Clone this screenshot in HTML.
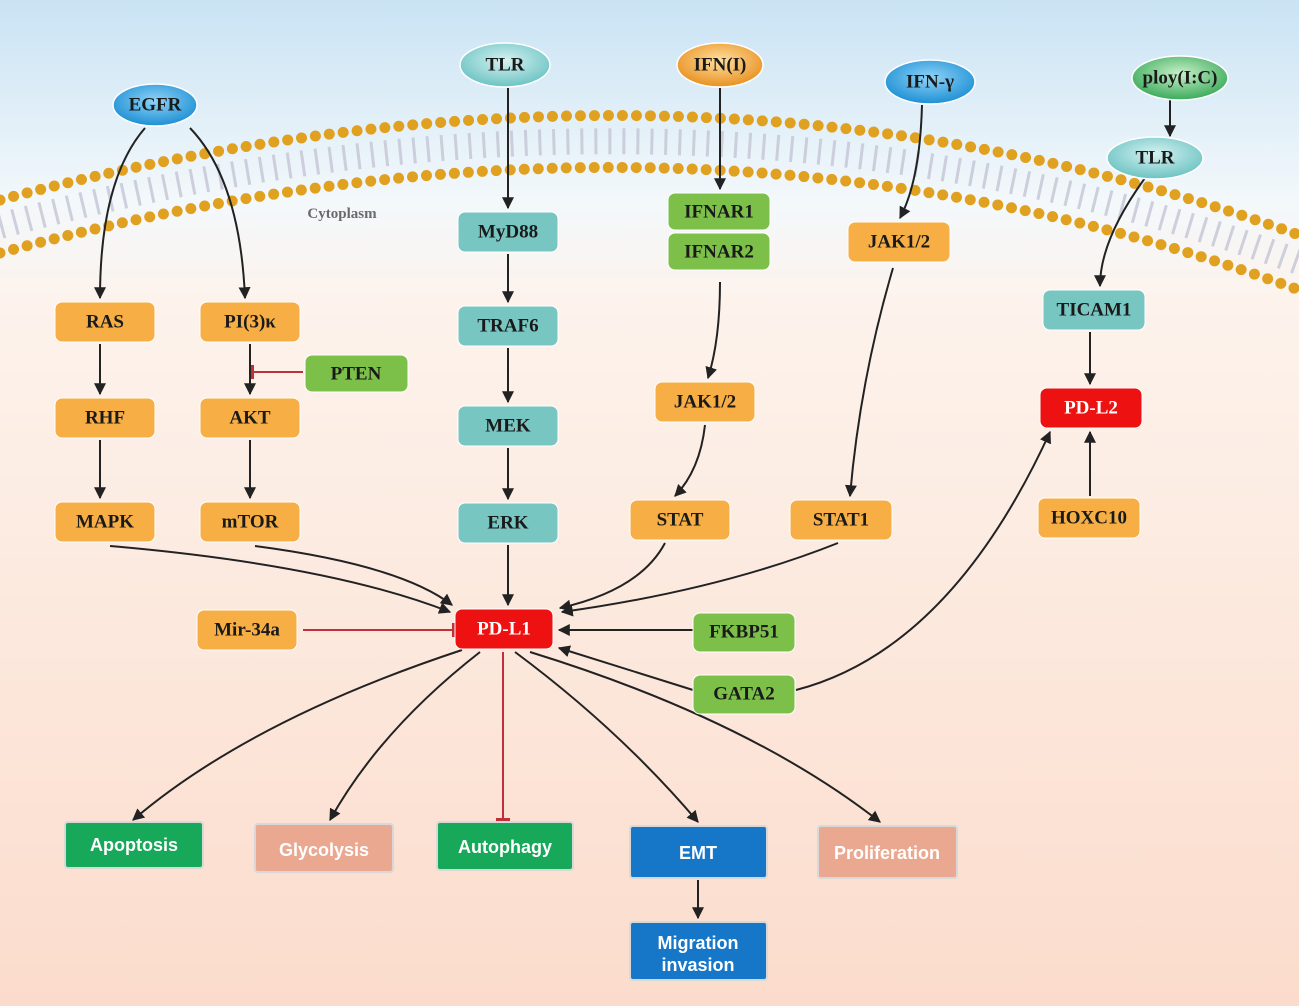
<!DOCTYPE html>
<html><head><meta charset="utf-8"><style>
body{margin:0;width:1299px;height:1006px;overflow:hidden}
svg{display:block}
.n{font-family:"Liberation Serif",serif;font-weight:bold;font-size:19px;fill:#1a1a1a;text-anchor:middle;dominant-baseline:central}
.b{font-family:"Liberation Sans",sans-serif;font-weight:bold;font-size:18px;fill:#fff;text-anchor:middle;dominant-baseline:central}
</style></head><body>
<svg width="1299" height="1006" viewBox="0 0 1299 1006">
<defs>
<linearGradient id="bg" x1="0" y1="0" x2="0" y2="1">
<stop offset="0" stop-color="#c9e3f4"/><stop offset="0.2" stop-color="#f3f8fb"/><stop offset="0.3" stop-color="#fdf3ec"/><stop offset="1" stop-color="#fbdccc"/></linearGradient>
<radialGradient id="gb" cx="0.5" cy="0.4" r="0.6"><stop offset="0" stop-color="#8fd3f7"/><stop offset="1" stop-color="#1d8fd4"/></radialGradient>
<radialGradient id="gt" cx="0.5" cy="0.4" r="0.6"><stop offset="0" stop-color="#d6f2f1"/><stop offset="1" stop-color="#6cc3c3"/></radialGradient>
<radialGradient id="go" cx="0.5" cy="0.4" r="0.6"><stop offset="0" stop-color="#ffe0a0"/><stop offset="1" stop-color="#e89020"/></radialGradient>
<radialGradient id="gg" cx="0.5" cy="0.4" r="0.6"><stop offset="0" stop-color="#c8f0c8"/><stop offset="1" stop-color="#3aaa5a"/></radialGradient>
<marker id="a" viewBox="0 0 10 10" refX="9" refY="5" markerWidth="12" markerHeight="12" markerUnits="userSpaceOnUse" orient="auto"><path d="M0,0L10,5L0,10z" fill="#222"/></marker>
<marker id="t" viewBox="0 0 4 14" refX="2" refY="7" markerWidth="4" markerHeight="14" markerUnits="userSpaceOnUse" orient="auto"><rect x="0" y="0" width="3" height="14" fill="#c0303a"/></marker>
</defs>
<rect width="1299" height="1006" fill="url(#bg)"/>
<!-- membrane -->
<path d="M0,226 Q690,40 1299,262" fill="none" stroke="#c4c4d4" stroke-width="26" stroke-dasharray="3 11" opacity="0.8"/>
<path d="M0,200 Q690,15 1299,235" fill="none" stroke="#e0a020" stroke-width="11" stroke-linecap="round" stroke-dasharray="0 14"/>
<path d="M0,253 Q690,65 1299,290" fill="none" stroke="#e0a020" stroke-width="11" stroke-linecap="round" stroke-dasharray="0 14"/>
<text x="342" y="218" font-family="Liberation Serif,serif" font-weight="bold" font-size="15" fill="#6a6a6a" text-anchor="middle">Cytoplasm</text>
<!-- connectors -->
<g fill="none" stroke="#222" stroke-width="2">
<path d="M145,128 Q100,180 100,298" marker-end="url(#a)"/>
<path d="M190,128 Q240,180 245,298" marker-end="url(#a)"/>
<path d="M100,344 V394" marker-end="url(#a)"/>
<path d="M100,440 V498" marker-end="url(#a)"/>
<path d="M250,344 V394" marker-end="url(#a)"/>
<path d="M250,440 V498" marker-end="url(#a)"/>
<path d="M110,546 Q330,565 450,612" marker-end="url(#a)"/>
<path d="M255,546 Q400,565 452,605" marker-end="url(#a)"/>
<path d="M508,88 V208" marker-end="url(#a)"/>
<path d="M508,254 V302" marker-end="url(#a)"/>
<path d="M508,348 V402" marker-end="url(#a)"/>
<path d="M508,448 V499" marker-end="url(#a)"/>
<path d="M508,545 V605" marker-end="url(#a)"/>
<path d="M720,88 V189" marker-end="url(#a)"/>
<path d="M720,282 Q720,340 708,378" marker-end="url(#a)"/>
<path d="M705,425 Q700,470 675,496" marker-end="url(#a)"/>
<path d="M665,543 Q640,590 560,608" marker-end="url(#a)"/>
<path d="M922,105 Q920,180 900,218" marker-end="url(#a)"/>
<path d="M893,268 Q860,380 850,496" marker-end="url(#a)"/>
<path d="M838,543 Q720,590 562,612" marker-end="url(#a)"/>
<path d="M693,630 H559" marker-end="url(#a)"/>
<path d="M693,690 L559,648" marker-end="url(#a)"/>
<path d="M796,690 Q950,650 1050,432" marker-end="url(#a)"/>
<path d="M1090,496 V432" marker-end="url(#a)"/>
<path d="M1090,332 V384" marker-end="url(#a)"/>
<path d="M1170,100 V136" marker-end="url(#a)"/>
<path d="M1145,178 Q1100,240 1100,286" marker-end="url(#a)"/>
<path d="M462,650 Q250,720 133,820" marker-end="url(#a)"/>
<path d="M480,652 Q380,730 330,820" marker-end="url(#a)"/>
<path d="M515,652 Q620,730 698,822" marker-end="url(#a)"/>
<path d="M530,652 Q750,720 880,822" marker-end="url(#a)"/>
<path d="M698,880 V918" marker-end="url(#a)"/>
</g>
<g fill="none" stroke="#c0303a" stroke-width="2">
<path d="M303,630 H454" marker-end="url(#t)"/>
<path d="M303,372 H252" marker-end="url(#t)"/>
<path d="M503,652 V820" marker-end="url(#t)"/>
</g>
<!-- ellipses -->
<g stroke="#fff" stroke-width="1.5">
<ellipse cx="155" cy="105" rx="42" ry="21" fill="url(#gb)"/>
<ellipse cx="505" cy="65" rx="45" ry="22" fill="url(#gt)"/>
<ellipse cx="720" cy="65" rx="43" ry="22" fill="url(#go)"/>
<ellipse cx="930" cy="82" rx="45" ry="22" fill="url(#gb)"/>
<ellipse cx="1180" cy="78" rx="48" ry="22" fill="url(#gg)"/>
<ellipse cx="1155" cy="158" rx="48" ry="21" fill="url(#gt)"/>
</g>
<text class="n" x="155" y="105" font-size="16">EGFR</text>
<text class="n" x="505" y="65">TLR</text>
<text class="n" x="720" y="65" font-size="17">IFN(I)</text>
<text class="n" x="930" y="82" font-size="17">IFN-γ</text>
<text class="n" x="1180" y="78" font-size="16">ploy(I:C)</text>
<text class="n" x="1155" y="158">TLR</text>
<!-- boxes -->
<g stroke="#fff" stroke-width="1">
<g fill="#f6ae45">
<rect x="55" y="302" width="100" height="40" rx="7"/>
<rect x="200" y="302" width="100" height="40" rx="7"/>
<rect x="55" y="398" width="100" height="40" rx="7"/>
<rect x="200" y="398" width="100" height="40" rx="7"/>
<rect x="55" y="502" width="100" height="40" rx="7"/>
<rect x="200" y="502" width="100" height="40" rx="7"/>
<rect x="655" y="382" width="100" height="40" rx="7"/>
<rect x="630" y="500" width="100" height="40" rx="7"/>
<rect x="848" y="222" width="102" height="40" rx="7"/>
<rect x="790" y="500" width="102" height="40" rx="7"/>
<rect x="1038" y="498" width="102" height="40" rx="7"/>
<rect x="197" y="610" width="100" height="40" rx="7"/>
</g>
<g fill="#77c6c2">
<rect x="458" y="212" width="100" height="40" rx="7"/>
<rect x="458" y="306" width="100" height="40" rx="7"/>
<rect x="458" y="406" width="100" height="40" rx="7"/>
<rect x="458" y="503" width="100" height="40" rx="7"/>
<rect x="1043" y="290" width="102" height="40" rx="7"/>
</g>
<g fill="#7cc04a">
<rect x="305" y="355" width="103" height="37" rx="7"/>
<rect x="668" y="193" width="102" height="37" rx="7"/>
<rect x="668" y="233" width="102" height="37" rx="7"/>
<rect x="693" y="613" width="102" height="39" rx="7"/>
<rect x="693" y="675" width="102" height="39" rx="7"/>
</g>
<g fill="#ee1111">
<rect x="455" y="609" width="98" height="40" rx="7"/>
<rect x="1040" y="388" width="102" height="40" rx="7"/>
</g>
</g>
<text class="n" x="105" y="322">RAS</text>
<text class="n" x="250" y="322">PI(3)κ</text>
<text class="n" x="105" y="418">RHF</text>
<text class="n" x="250" y="418">AKT</text>
<text class="n" x="105" y="522">MAPK</text>
<text class="n" x="250" y="522">mTOR</text>
<text class="n" x="356" y="374">PTEN</text>
<text class="n" x="508" y="232">MyD88</text>
<text class="n" x="508" y="326">TRAF6</text>
<text class="n" x="508" y="426">MEK</text>
<text class="n" x="508" y="523">ERK</text>
<text class="n" x="719" y="212">IFNAR1</text>
<text class="n" x="719" y="252">IFNAR2</text>
<text class="n" x="705" y="402">JAK1/2</text>
<text class="n" x="680" y="520">STAT</text>
<text class="n" x="899" y="242">JAK1/2</text>
<text class="n" x="841" y="520">STAT1</text>
<text class="n" x="1094" y="310">TICAM1</text>
<text class="n" x="1091" y="408" style="fill:#fff">PD-L2</text>
<text class="n" x="1089" y="518">HOXC10</text>
<text class="n" x="504" y="629" style="fill:#fff">PD-L1</text>
<text class="n" x="247" y="630">Mir-34a</text>
<text class="n" x="744" y="632">FKBP51</text>
<text class="n" x="744" y="694">GATA2</text>
<!-- outcome boxes -->
<g stroke="#d8d8d8" stroke-width="2">
<rect x="65" y="822" width="138" height="46" rx="3" fill="#17a85a"/>
<rect x="255" y="824" width="138" height="48" rx="3" fill="#eaa890"/>
<rect x="437" y="822" width="136" height="48" rx="3" fill="#17a85a"/>
<rect x="630" y="826" width="137" height="52" rx="3" fill="#1676c8"/>
<rect x="818" y="826" width="139" height="52" rx="3" fill="#eaa890"/>
<rect x="630" y="922" width="137" height="58" rx="3" fill="#1676c8"/>
</g>
<text class="b" x="134" y="845">Apoptosis</text>
<text class="b" x="324" y="850">Glycolysis</text>
<text class="b" x="505" y="847">Autophagy</text>
<text class="b" x="698" y="853">EMT</text>
<text class="b" x="887" y="853">Proliferation</text>
<text class="b" x="698" y="943">Migration</text>
<text class="b" x="698" y="965">invasion</text>
</svg>
</body></html>
